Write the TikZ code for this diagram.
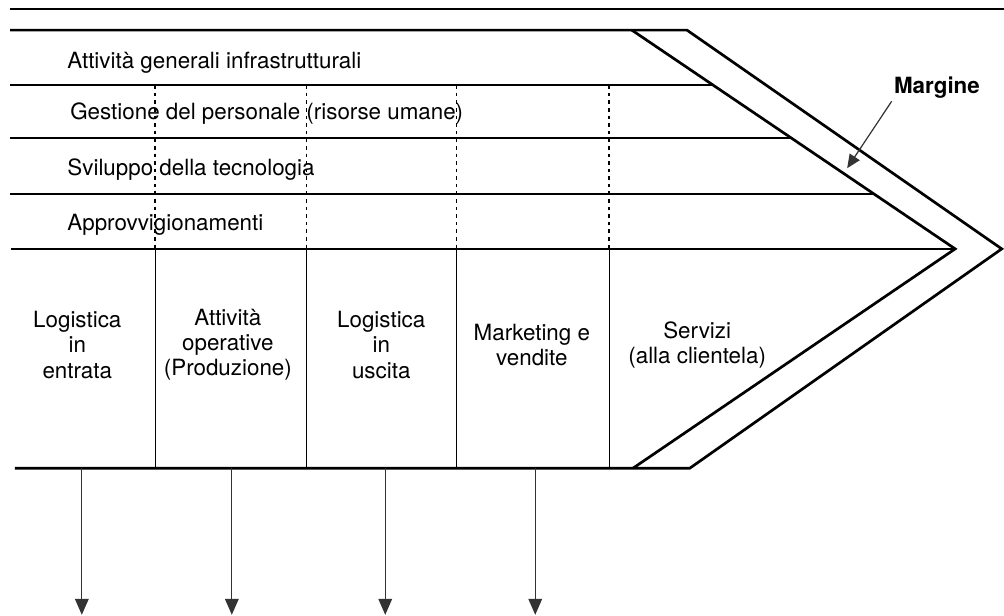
\documentclass[tikz,border=0pt]{standalone}
\usepackage{fontspec}
\setmainfont{TeX Gyre Heros}
\usetikzlibrary{arrows.meta}

\begin{document}
\begin{tikzpicture}[
  font=\fontsize{11.2}{12.6}\selectfont,
  chainline/.style={line width=1.35pt, line join=miter},
  rowline/.style={line width=0.9pt},
  divider/.style={line width=0.6pt},
  linkline/.style={line width=0.65pt, dash pattern=on 1.8pt off 2pt},
  support/.style={anchor=base west, inner sep=0pt},
  primary/.style={align=center, inner sep=0pt},
  outarrow/.style={-{Triangle[length=2.8mm,width=2.4mm]}, line width=0.6pt, draw=black!80},
  pointer/.style={-{Triangle[length=2.4mm,width=2.1mm]}, line width=0.6pt, draw=black!80}
]
\useasboundingbox (0,0) rectangle (17.67,-10.84);
\fill[white] (0,0) rectangle (17.67,-10.84);

% Corners of the chain arrow
\coordinate (tl) at (0.18,-0.53);
\coordinate (ml) at (0.20,-4.38);
\coordinate (bl) at (0.26,-8.24);
\coordinate (inTop) at (11.12,-0.53);
\coordinate (inTip) at (16.81,-4.38);
\coordinate (inBot) at (11.14,-8.24);
\coordinate (outTop) at (12.09,-0.53);
\coordinate (outTip) at (17.63,-4.38);
\coordinate (outBot) at (12.14,-8.24);

% Rule above the chain
\draw[line width=1.1pt] (0.18,-0.16) -- (17.67,-0.16);

% Outline and margin band
\draw[chainline] (tl) -- (outTop) -- (outTip) -- (outBot) -- (bl);
\draw[chainline] (inTop) -- (inTip) -- (inBot);
\draw[chainline] (ml) -- (inTip);

% Support activity rows
\foreach \y/\x in {-1.50/12.55, -2.43/13.93, -3.41/15.38}
  \draw[rowline] (0.18,\y) -- (\x,\y);

% Dashed links through the support rows, solid ones below
\foreach \x in {2.73,5.39,8.04,10.72} {
  \draw[linkline] (\x,-1.50) -- (\x,-4.38);
  \draw[divider] (\x,-4.38) -- (\x,-8.24);
}

\node[support] (infra) at (1.18,-1.20) {Attività generali infrastrutturali};
\node[support] (hrm) at (1.23,-2.11) {Gestione del personale (risorse umane)};
\node[support] (tech) at (1.18,-3.08) {Sviluppo della tecnologia};
\node[support] (procure) at (1.18,-4.05) {Approvvigionamenti};

% Primary activities
\node[primary] (inlog) at (1.36,-6.07) {Logistica\\in\\entrata};
\node[primary] (ops) at (4.01,-6.07) {Attività\\operative\\(Produzione)};
\node[primary] (outlog) at (6.71,-6.07) {Logistica\\in\\uscita};
\node[primary] (mkt) at (9.36,-6.07) {Marketing e\\vendite};
\node[primary] (serv) at (12.27,-6.07) {Servizi\\(alla clientela)};

% Outputs below the chain
\foreach \x [count=\i] in {1.44,4.08,6.78,9.42} {
  \coordinate (src\i) at (\x,-8.24);
  \coordinate (dst\i) at (\x,-10.82);
  \draw[outarrow] (src\i) -- (dst\i);
}

% Margin label
\node[font=\fontsize{11.2}{12.6}\selectfont\bfseries, inner sep=1pt] (margin) at (16.49,-1.55) {Margine};
\coordinate (marginTip) at (14.91,-2.96);
\draw[pointer] (margin.south west) -- (marginTip);

\end{tikzpicture}
\end{document}
